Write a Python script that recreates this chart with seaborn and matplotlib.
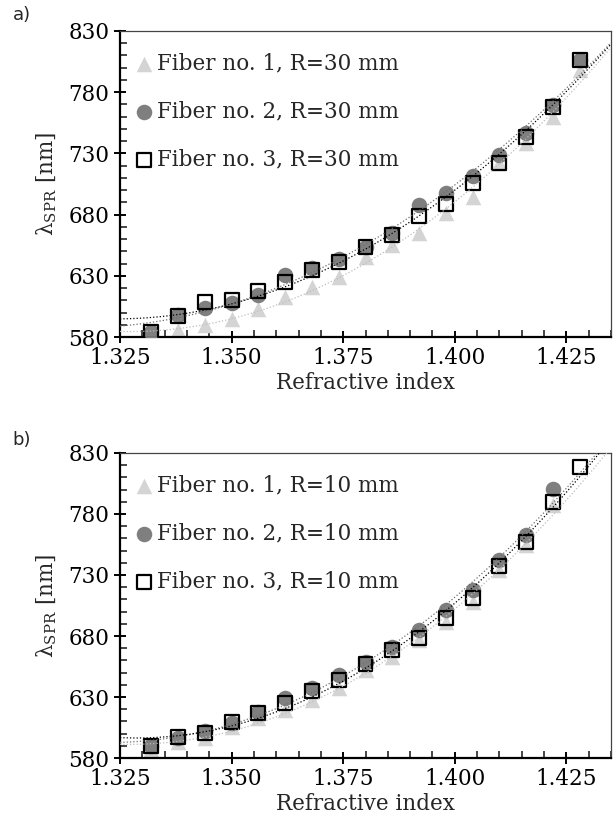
import numpy as np
import pandas as pd
import matplotlib
matplotlib.use('Agg')
import matplotlib.pyplot as plt
import seaborn as sns
from matplotlib.ticker import MultipleLocator, FormatStrFormatter

# refractive index of the test liquids
ri = [1.332, 1.338, 1.344, 1.350, 1.356, 1.362, 1.368, 1.374, 1.380,
      1.386, 1.392, 1.398, 1.404, 1.410, 1.416, 1.422, 1.428]

# panel a) R = 30 mm
a_fib1 = [582, 585.7, 589.9, 594.4, 602.6, 612.9, 621.1, 629.3, 645,
          655.2, 664.7, 681.6, 694.6, 722, 738.2, 760, 798]
a_fib2 = [584, 598, 603.4, 607.5, 614.3, 630.7, 636.1, 643.5, 653.8,
          664.7, 687.8, 697.4, 711.5, 728.7, 746.4, 769.5, 806]
a_fib3 = [584.5, 597.4, 608.8, 610.2, 617.6, 624.7, 634.7, 641, 653.8,
          663.3, 678.9, 688.4, 705.6, 722.4, 743.7, 768.2, 806.3]

# panel b) R = 10 mm (fibers 1 and 2 stop at 1.422)
b_fib1 = [587, 593.4, 596, 605.7, 612.5, 619.3, 627.5, 637, 652,
          663, 676.7, 691.7, 708, 734, 754.6, 787.4]
b_fib2 = [590, 596, 602, 609, 617.6, 629, 637, 648, 659,
          671, 685, 701, 717.7, 742.3, 762.8, 800.2]
b_fib3 = [589.8, 597.5, 600.7, 609.8, 616.6, 624.8, 635.2, 643.9, 657,
          668.5, 678, 694.5, 710.9, 737.4, 757.3, 790.1, 818.8]

y_ticks = [580, 630, 680, 730, 780, 830]

sns.set_style('ticks')
plt.rcParams['font.family'] = ['DejaVu Serif']
plt.rcParams['mathtext.fontset'] = 'dejavuserif'

fig = plt.figure(figsize=(6.13, 8.35), dpi=100)
ax_a = fig.add_axes([0.1958, 0.5964, 0.8009, 0.3665])
ax_b = fig.add_axes([0.1958, 0.0922, 0.8009, 0.3653])

styles = [
    dict(marker='^', color='#d4d4d4', edge='#d4d4d4', line='#bdbdbd'),
    dict(marker='o', color='#7f7f7f', edge='#7f7f7f', line='#6e6e6e'),
    dict(marker='s', color='none', edge='black', line='black'),
]

FS = 15.5


def draw_panel(ax, series, radius):
    ax.set_xlim(1.325, 1.435)
    ax.set_ylim(580, 830)
    for i, (y, st) in enumerate(zip(series, styles)):
        x = ri[:len(y)]
        df = pd.DataFrame({'n': x, 'lam': y})
        sns.scatterplot(data=df, x='n', y='lam', ax=ax, marker=st['marker'],
                        s=125 if st['marker'] != 's' else 100,
                        facecolor=st['color'], edgecolor=st['edge'],
                        linewidth=0 if st['marker'] != 's' else 1.6,
                        label=f'Fiber no. {i + 1}, R={radius} mm', zorder=2 + i)
    for y, st in zip(series, styles):
        x = ri[:len(y)]
        sns.regplot(x=x, y=y, ax=ax, order=2, ci=None, scatter=False,
                    truncate=False,
                    line_kws=dict(color=st['line'], lw=0.9, ls=':', zorder=6))
    ax.set_xlim(1.325, 1.435)
    ax.set_ylim(580, 830)

    ax.xaxis.set_major_locator(MultipleLocator(0.025))
    ax.xaxis.set_minor_locator(MultipleLocator(0.005))
    ax.xaxis.set_major_formatter(FormatStrFormatter('%.3f'))
    ax.set_yticks(y_ticks)
    ax.yaxis.set_minor_locator(MultipleLocator(10))
    ax.tick_params(which='major', direction='inout', length=9, width=1.4,
                   labelsize=FS, colors='black', pad=3)
    ax.tick_params(which='minor', direction='in', length=5, width=1.2)

    for side in ['left', 'bottom']:
        ax.spines[side].set_linewidth(1.6)
        ax.spines[side].set_color('black')
    for side in ['top', 'right']:
        ax.spines[side].set_visible(True)
        ax.spines[side].set_linewidth(0.9)
        ax.spines[side].set_color('#444444')

    ax.set_xlabel('Refractive index', fontsize=FS, labelpad=2)
    ax.set_ylabel('λ$_{\\rm SPR}$ [nm]', fontsize=FS, labelpad=7)

    ax.legend(loc='upper left', bbox_to_anchor=(0.022, 0.93), frameon=False,
              fontsize=FS, handletextpad=0.0, labelspacing=1.22,
              borderaxespad=0.0, borderpad=0.0, handlelength=1.2)


draw_panel(ax_a, [a_fib1, a_fib2, a_fib3], 30)
draw_panel(ax_b, [b_fib1, b_fib2, b_fib3], 10)

fig.text(0.021, 0.982, 'a)', fontsize=13, family='DejaVu Sans', va='center')
fig.text(0.021, 0.473, 'b)', fontsize=13, family='DejaVu Sans', va='center')

fig.savefig('out.png', dpi=100)
